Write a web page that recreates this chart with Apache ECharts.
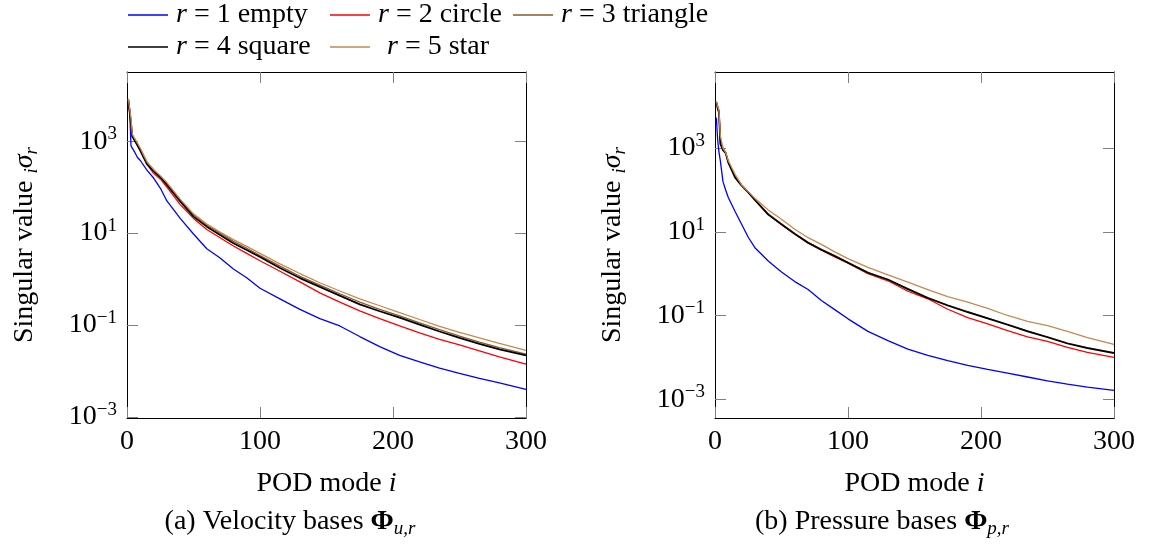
<!DOCTYPE html>
<html><head><meta charset="utf-8">
<script src="https://cdn.jsdelivr.net/npm/echarts@6/dist/echarts.min.js"></script>
<style>html,body{margin:0;padding:0;background:#fff}#c{width:1150px;height:550px}</style>
</head><body><div id="c"></div>
<script>
// ---------- data ----------
const modes = [1,2,3,4,6,8,10,15,20,25,30,40,50,60,70,80,90,100,115,130,145,160,175,190,205,220,235,250,265,280,300];
const seriesNames = ['r = 1 empty','r = 2 circle','r = 3 triangle','r = 4 square','r = 5 star'];
const seriesColors = ['#0000ff','#ff0000','#8a5a2a','#000000','#c58a4f'];

// (a) velocity singular values
const velR1 = [5600,5000,794,708,562,437,380,234,158,95.5,50.1,20.9,9.55,4.57,2.88,1.66,1.07,0.631,0.372,0.219,0.138,0.0955,0.0562,0.0339,0.0219,0.0158,0.0115,0.00891,0.00692,0.0055,0.00398];
const velR2 = [7600,7600,2000,1259,1047,794,603,316,200,151,100,41.7,20.9,12.0,7.94,5.25,3.63,2.51,1.48,0.871,0.501,0.316,0.204,0.138,0.0955,0.0676,0.049,0.0372,0.0275,0.0204,0.0141];
const velR3 = [8300,8300,2240,1318,1072,832,661,355,240,166,120,52.5,25.1,14.8,10.0,6.61,4.68,3.24,1.91,1.15,0.741,0.479,0.316,0.219,0.158,0.112,0.0794,0.0575,0.0427,0.0324,0.0234];
const velR4 = [7900,7900,2512,1259,1000,794,631,316,224,166,112,49.0,22.9,13.8,9.12,6.03,4.27,3.02,1.74,1.05,0.676,0.437,0.282,0.2,0.145,0.102,0.0724,0.0525,0.0389,0.0295,0.0219];
const velR5 = [8300,8300,3160,1413,1122,891,708,355,240,178,126,55.0,26.3,15.8,10.5,7.24,5.13,3.63,2.14,1.32,0.832,0.55,0.372,0.263,0.186,0.132,0.0933,0.0692,0.0525,0.0398,0.0282];

// (b) pressure singular values
const presR1 = [5370,1585,794,501,158,100,66.1,30.9,15.1,7.41,4.17,2.0,1.10,0.646,0.417,0.229,0.138,0.0832,0.0417,0.0251,0.0158,0.0112,0.00832,0.00646,0.00513,0.00417,0.00339,0.00275,0.00229,0.00195,0.00162];
const presR2 = [12600,10000,7940,1585,1000,794,479,214,132,89.1,57.5,26.3,14.8,8.71,5.37,3.63,2.51,1.78,1.0,0.676,0.38,0.251,0.141,0.0891,0.0631,0.0437,0.0309,0.024,0.0174,0.0132,0.01];
const presR3 = [12600,9550,7080,1413,912,759,457,209,132,89.1,58.9,26.9,15.5,9.12,5.62,3.8,2.69,1.86,1.07,0.708,0.437,0.269,0.178,0.123,0.0871,0.0617,0.0427,0.0309,0.0219,0.017,0.0129];
const presR4 = [12300,8910,7080,1259,891,759,447,200,126,87.1,57.5,25.7,15.1,8.91,5.5,3.72,2.63,1.82,1.05,0.724,0.427,0.263,0.174,0.12,0.0851,0.0603,0.0417,0.0302,0.0214,0.0166,0.0126];
const presR5 = [13200,10000,7940,2000,1000,794,501,240,132,91.2,63.1,33.1,20.0,11.5,7.24,5.01,3.31,2.29,1.41,0.933,0.631,0.417,0.282,0.209,0.148,0.1,0.0724,0.0575,0.0417,0.0295,0.0204];

const xTickValues = [0,100,200,300];
const yTickValues = [0.001,0.1,10,1000];
const captions = ['(a) Velocity bases {phi|Φ}{sub|u,r}','(b) Pressure bases {phi|Φ}{sub|p,r}'];

// ---------- chart ----------
const F = '"Liberation Serif", "DejaVu Serif", serif';
const FS = 28;
const chart = echarts.init(document.getElementById('c'), null, {renderer:'canvas'});

const grids = [
  {left:127, top:72, width:399, height:346},
  {left:715, top:72, width:399, height:346}
];
const yRanges = [[0.00095, 32000],[0.000355, 66000]];
const velSets = [velR1,velR2,velR3,velR4,velR5];
const presSets = [presR1,presR2,presR3,presR4,presR5];

function expLabel(v){
  const e = Math.round(Math.log10(v));
  const s = e < 0 ? '\u2212' + Math.abs(e) : String(e);
  return '{b|10}{s|' + s + '}';
}
const tickStyle = {show:true, inside:true, length:11, lineStyle:{color:'#808080', width:1}};
const lineAx = {show:true, onZero:false, lineStyle:{color:'#000', width:1}};

const xAxis = [], yAxis = [], series = [];
[0,1].forEach(g=>{
  xAxis.push({
    gridIndex:g, type:'value', min:0, max:300, interval:100, position:'bottom',
    axisLine:lineAx, axisTick:Object.assign({customValues:xTickValues}, tickStyle),
    splitLine:{show:false},
    axisLabel:{customValues:xTickValues, fontFamily:F, fontSize:FS, color:'#000', margin:10},
    name:'POD mode {it|i}', nameLocation:'middle', nameGap:52,
    nameTextStyle:{fontFamily:F, fontSize:FS, color:'#000', rich:{it:{fontFamily:F, fontSize:FS, fontStyle:'italic', color:'#000'}}}
  });
  xAxis.push({
    gridIndex:g, type:'value', min:0, max:300, interval:100, position:'top',
    axisLine:lineAx, axisTick:Object.assign({customValues:xTickValues}, tickStyle),
    axisLabel:{show:false}, splitLine:{show:false}
  });
  yAxis.push({
    gridIndex:g, type:'log', logBase:10, min:yRanges[g][0], max:yRanges[g][1], position:'left',
    axisLine:lineAx, axisTick:Object.assign({customValues:yTickValues}, tickStyle),
    minorTick:{show:false}, splitLine:{show:false},
    axisLabel:{customValues:yTickValues, formatter:expLabel, margin:10,
      rich:{b:{fontFamily:F, fontSize:FS, color:'#000'}, s:{fontFamily:F, fontSize:19, color:'#000', padding:[0,0,14,0]}}},
    name:'Singular value {s|i}{g|σ}{s|r}', nameLocation:'middle', nameGap:86, nameRotate:90,
    nameTextStyle:{fontFamily:F, fontSize:FS, color:'#000',
      rich:{s:{fontFamily:F, fontSize:19, fontStyle:'italic', color:'#000', padding:[14,0,0,0]},
            g:{fontFamily:F, fontSize:FS, fontStyle:'italic', color:'#000'}}}
  });
  yAxis.push({
    gridIndex:g, type:'log', logBase:10, min:yRanges[g][0], max:yRanges[g][1], position:'right',
    axisLine:lineAx, axisTick:Object.assign({customValues:yTickValues}, tickStyle),
    minorTick:{show:false}, splitLine:{show:false}, axisLabel:{show:false}
  });
  const sets = g === 0 ? velSets : presSets;
  sets.forEach((vals, k)=>{
    series.push({
      type:'line', name:seriesNames[k], xAxisIndex:g*2, yAxisIndex:g*2,
      data: modes.map((m,i)=>[m, vals[i]]),
      symbol:'none', showSymbol:false, smooth:false,
      lineStyle:{color:seriesColors[k], width: k===3 ? 1.7 : 1.3},
      itemStyle:{color:seriesColors[k]},
      emphasis:{disabled:true}, animation:false, z: 2 + k
    });
  });
});

const legendPos = [[128,1,3],[330,1,3],[513,1,3],[128,33,3],[330,33,12]];
const legend = seriesNames.map((n,k)=>({
  data:[n], left:legendPos[k][0], top:legendPos[k][1], padding:0,
  icon:'path://M0,0H40V1.4H0Z', itemWidth:40, itemHeight:14, selectedMode:false,
  formatter: name => '{i|r} = ' + name.slice(4),
  textStyle:{fontFamily:F, fontSize:FS, color:'#000', padding:[0,0,0,legendPos[k][2]],
    rich:{i:{fontFamily:F, fontSize:FS, fontStyle:'italic', color:'#000'}}}
}));

const capRich = {
  phi:{fontFamily:F, fontSize:FS, fontWeight:'bold', color:'#000'},
  sub:{fontFamily:F, fontSize:19, fontStyle:'italic', color:'#000', padding:[14,0,0,0]}
};
const graphic = [
  {type:'text', x:290, y:522, style:{text:captions[0], fontFamily:F, fontSize:FS, fill:'#000', align:'center', verticalAlign:'middle', rich:capRich}},
  {type:'text', x:882, y:522, style:{text:captions[1], fontFamily:F, fontSize:FS, fill:'#000', align:'center', verticalAlign:'middle', rich:capRich}}
];

chart.setOption({
  backgroundColor:'#ffffff', animation:false,
  grid:grids, xAxis:xAxis, yAxis:yAxis, series:series, legend:legend, graphic:graphic
});
</script></body></html>
